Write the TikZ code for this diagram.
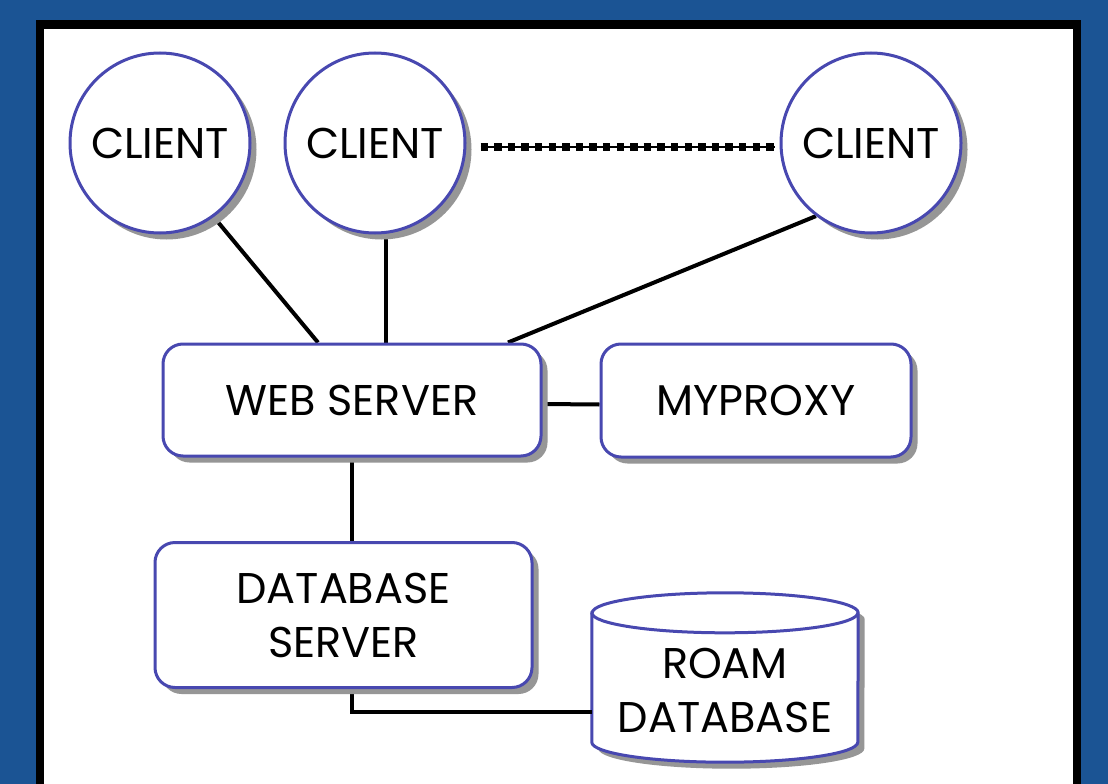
\documentclass[tikz,border=0pt]{standalone}
\usepackage{fontspec}
\setmainfont{Poppins}
\usetikzlibrary{shadows,backgrounds}
\definecolor{bgblue}{RGB}{27,84,148}
\definecolor{edgeblue}{RGB}{72,72,176}
\definecolor{shade}{RGB}{150,150,150}
\tikzset{
  shadowed/.style={drop shadow={shadow xshift=6.5pt,shadow yshift=-6.5pt,fill=shade,opacity=1}},
  labelfont/.style={font=\fontsize{43}{54}\selectfont,align=center},
  shapebase/.style={draw=edgeblue,line width=3pt,fill=white,shadowed,inner sep=0pt,labelfont},
  client/.style={shapebase,circle,minimum size=180pt},
  box/.style={shapebase,rectangle,rounded corners=20pt},
  link/.style={line width=4pt,black},
  outline/.style={draw=edgeblue,line width=3pt},
}
\begin{document}
\begin{tikzpicture}[x=1pt,y=1pt]
\useasboundingbox (0,0) rectangle (1108,-784);
% page frame
\begin{scope}[on background layer]
  \fill[bgblue] (0,0) rectangle (1108,-784);
  \draw[line width=8pt,fill=white] (40,-24) rectangle (1077,-830);
  \draw[shade,line width=1pt] (44,-28.5) -- (1073,-28.5);
\end{scope}

% clients
\node[client] (c1) at (160,-143) {CLIENT};
\node[client] (c2) at (375,-143) {CLIENT};
\node[client] (c3) at (871,-143) {CLIENT};

% servers
\node[box,minimum width=378pt,minimum height=112pt] (web) at (352,-400) {WEB SERVER};
\node[box,minimum width=310pt,minimum height=113pt] (proxy) at (756,-400.5) {MYPROXY};
\node[box,minimum width=377pt,minimum height=145pt] (db) at (343.5,-615) {DATABASE\\SERVER};

% database store
\node[inner sep=0pt,minimum width=266pt,minimum height=104pt,labelfont] (roam) at (725,-690) {ROAM\\DATABASE};
\begin{scope}[on background layer]
  \path[outline,fill=white,shadowed]
    ([yshift=25pt]roam.north west) -- (roam.south west)
    arc[start angle=180,end angle=360,x radius=133pt,y radius=20pt]
    -- ([yshift=25pt]roam.north east)
    arc[start angle=0,end angle=180,x radius=133pt,y radius=20pt] -- cycle;
  \draw[outline] ([yshift=25pt]roam.north west)
    arc[start angle=180,end angle=360,x radius=133pt,y radius=20pt];
\end{scope}

% connections
\begin{scope}[on background layer]
  \draw[link] (c1.-54) -- ([xshift=-34pt]web.north);
  \draw[link] (c2.-83) -- (c2.-83 |- web.north);
  \draw[link] (c3.-127) -- ([xshift=156pt]web.north);
  \draw[link] ([yshift=-4pt]web.east) -- ([yshift=-4pt]proxy.west);
  \draw[link] (web.south) -- (web.south |- db.north);
  \draw[link] (db.south -| web.south) |- ([yshift=-22pt]roam.west);
  \draw[shade,line width=1.5pt] ([yshift=-4pt,xshift=14pt]c2.east) -- ([yshift=-4pt,xshift=-5pt]c3.west);
  \draw[line width=8pt,dash pattern=on 7.5pt off 6.1pt] ([yshift=-4pt,xshift=14pt]c2.east) -- ([yshift=-4pt,xshift=-5pt]c3.west);
\end{scope}
\end{tikzpicture}
\end{document}
